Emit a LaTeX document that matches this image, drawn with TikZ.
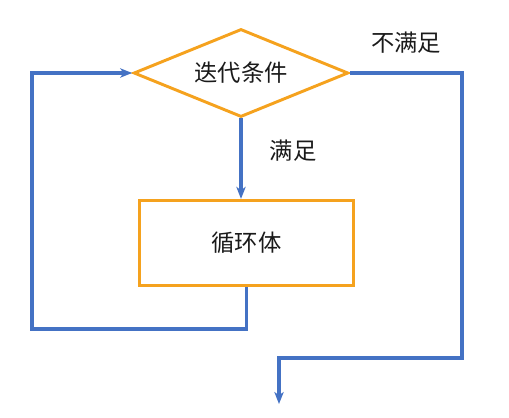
\documentclass[tikz,border=0pt]{standalone}
\usepackage{fontspec}
\setmainfont{Noto Sans CJK SC}
\usetikzlibrary{arrows.meta,shapes.geometric,positioning}
\definecolor{flowblue}{HTML}{4472C4}
\definecolor{boxorange}{HTML}{F5A21E}
\definecolor{ink}{HTML}{1A1A1A}
\tikzset{
  loopline/.style={line width=2.3pt,color=flowblue},
  looparr/.style={loopline,-{Stealth[length=9pt,width=7pt,inset=2.5pt]}},
  condshape/.style={diamond,aspect=2.44,draw=boxorange,line width=2.2pt,minimum width=161pt,minimum height=66pt,inner sep=0pt,font=\fontsize{17.5}{20}\selectfont,text=ink},
  bodybox/.style={rectangle,draw=boxorange,line width=2.2pt,minimum width=160pt,minimum height=64pt,inner sep=0pt,font=\fontsize{17.5}{20}\selectfont,text=ink},
  branchlabel/.style={font=\fontsize{17.5}{20}\selectfont,text=ink}
}
\begin{document}
\begin{tikzpicture}[x=0.75pt,y=-0.75pt]
  \useasboundingbox (0,0) rectangle (509,417);
  \node[condshape] (cond) at (241,73) {迭代条件};
  \node[bodybox] (body) at (246.5,243) {循环体};
  \coordinate (loopbl) at (32,329);
  \coordinate (exitbr) at (462,358);
  \coordinate (exitend) at (279,404);
  % satisfied: into the body
  \draw[looparr] (cond.south) -- (cond.south |- body.north);
  \node[branchlabel] (yes) at (293,151) {满足};
  % back to the condition
  \draw[looparr] (body.south) -- (body.south |- loopbl) -- (loopbl) |- (cond.west);
  % not satisfied: leave the loop
  \draw[looparr] (cond.east) -| (exitbr) -| (exitend);
  \node[branchlabel] (no) at (406,43) {不满足};
\end{tikzpicture}
\end{document}
